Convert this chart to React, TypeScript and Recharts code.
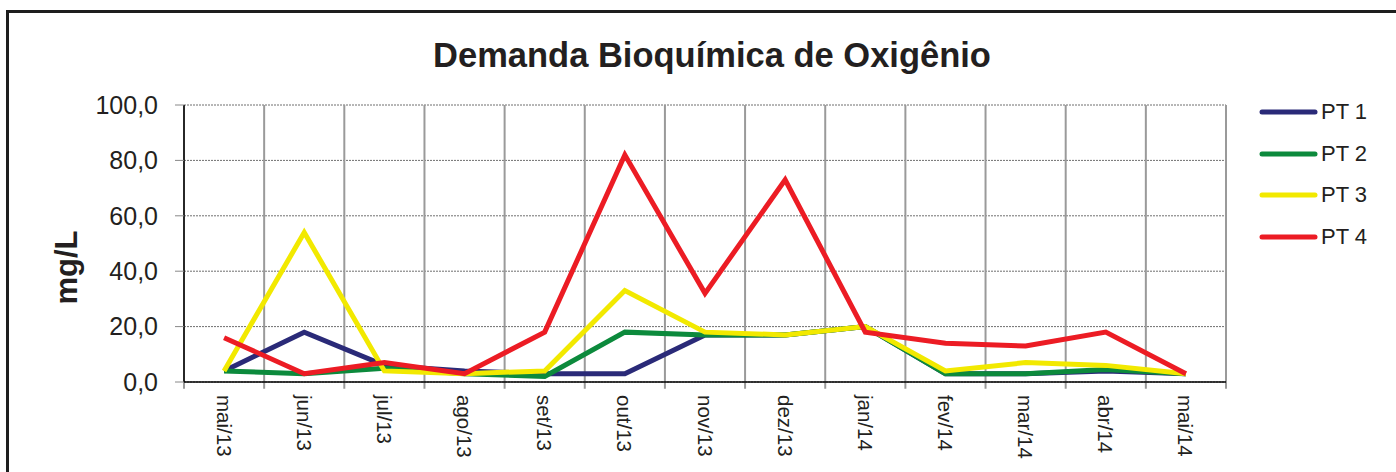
import React from 'react';
import {
  LineChart,
  Line,
  XAxis,
  YAxis,
  CartesianGrid,
  ReferenceLine,
} from 'recharts';

// meses de coleta
const months = [
  'mai/13', 'jun/13', 'jul/13', 'ago/13', 'set/13', 'out/13', 'nov/13',
  'dez/13', 'jan/14', 'fev/14', 'mar/14', 'abr/14', 'mai/14',
];

// DBO (mg/L) por ponto
const pt1 = [4, 18, 6, 4, 3, 3, 17, 17, 20, 3, 3, 4, 3];
const pt2 = [4, 3, 5, 3, 2, 18, 17, 17, 20, 3, 3, 4.5, 3];
const pt3 = [4, 54, 4, 3, 4, 33, 18, 17, 20, 4, 7, 6, 3];
const pt4 = [16, 3, 7, 3, 18, 82, 32, 73, 18, 14, 13, 18, 3];

const yTicks = [0, 20, 40, 60, 80, 100];
const monthIdx = months.map((_, i) => i);
// limites entre categorias (linhas verticais cinza)
const edges = [-0.5, ...months.map((_, i) => i + 0.5)];

const series = [
  { key: 'pt1', name: 'PT 1', color: '#2a2a78' },
  { key: 'pt2', name: 'PT 2', color: '#0c8a3c' },
  { key: 'pt3', name: 'PT 3', color: '#f2e900' },
  { key: 'pt4', name: 'PT 4', color: '#ec1c24' },
];

const data = months.map((m, i) => ({
  i,
  month: m,
  pt1: pt1[i],
  pt2: pt2[i],
  pt3: pt3[i],
  pt4: pt4[i],
}));

const FONT = 'Arial, "Liberation Sans", Helvetica, sans-serif';

const MonthTick = (props: any) => {
  const { x, y, payload } = props;
  return (
    <g transform={`translate(${x},${y})`}>
      <text
        transform="rotate(90)"
        x={13}
        y={0}
        textAnchor="start"
        dominantBaseline="central"
        fontSize={20.5}
        fontFamily={FONT}
        fill="#231f20"
      >
        {months[payload.value]}
      </text>
    </g>
  );
};

const YLabel = (props: any) => {
  const { viewBox } = props;
  const cx = viewBox.x - 8;
  const cy = viewBox.y + viewBox.height / 2 + 24;
  return (
    <text
      x={cx}
      y={cy}
      transform={`rotate(-90, ${cx}, ${cy})`}
      textAnchor="middle"
      dominantBaseline="central"
      fontSize={31}
      fontWeight="bold"
      fontFamily={FONT}
      fill="#231f20"
    >
      mg/L
    </text>
  );
};

export default function App() {
  return (
    <div style={{ position: 'absolute', left: 0, top: 0, width: 1396, height: 472, background: '#fff', overflow: 'hidden' }}>
      {/* moldura */}
      <div
        style={{
          position: 'absolute',
          left: 6,
          top: 10,
          width: 1420,
          height: 500,
          border: '3px solid #1e1e1e',
          boxSizing: 'border-box',
        }}
      />
      <div
        style={{
          position: 'absolute',
          left: 0,
          top: 38,
          width: 1424,
          textAlign: 'center',
          fontFamily: FONT,
          fontWeight: 'bold',
          fontSize: 34.5,
          lineHeight: 1,
          color: '#231f20',
        }}
      >
        Demanda Bioquímica de Oxigênio
      </div>

      <div style={{ position: 'absolute', left: 0, top: 0 }}>
        <LineChart
          width={1396}
          height={472}
          data={data}
          margin={{ top: 105, right: 170, bottom: 0, left: 74 }}
        >
          <CartesianGrid
            horizontal={true}
            vertical={false}
            stroke="#6f6f6f"
            strokeDasharray="2 1"
          />
          {edges.map((b) => (
            <ReferenceLine
              key={b}
              segment={[{ x: b, y: 100 }, { x: b, y: -2.4 }]}
              ifOverflow="visible"
              stroke="#9a9a9a"
              strokeWidth={2}
            />
          ))}
          <XAxis
            type="number"
            dataKey="i"
            domain={[-0.5, 12.5]}
            ticks={monthIdx}
            interval={0}
            tick={<MonthTick />}
            tickLine={false}
            tickSize={0}
            tickMargin={0}
            axisLine={{ stroke: '#000', strokeWidth: 1.5 }}
            height={90}
          />
          <YAxis
            type="number"
            domain={[0, 100]}
            ticks={yTicks}
            interval={0}
            width={110}
            tickSize={9}
            tickMargin={17}
            tickLine={{ stroke: '#888' }}
            axisLine={{ stroke: '#000', strokeWidth: 1.5 }}
            tickFormatter={(v: number) => v.toFixed(1).replace('.', ',')}
            tick={{ fontSize: 25, fontFamily: FONT, fill: '#231f20' }}
            label={<YLabel />}
          />
          {series.map((s) => (
            <Line
              key={s.key}
              type="linear"
              dataKey={s.key}
              name={s.name}
              stroke={s.color}
              strokeWidth={5}
              dot={false}
              activeDot={false}
              isAnimationActive={false}
            />
          ))}
        </LineChart>
      </div>

      {/* legenda */}
      {series.map((s, k) => (
        <div
          key={s.key}
          style={{
            position: 'absolute',
            left: 1258,
            top: 112 + k * 41.5 - 15,
            height: 30,
            display: 'flex',
            alignItems: 'center',
            fontFamily: FONT,
            fontSize: 22,
            color: '#231f20',
          }}
        >
          <svg width={62} height={10} style={{ display: 'block' }}>
            <line x1={4} y1={5} x2={57} y2={5} stroke={s.color} strokeWidth={5} strokeLinecap="round" />
          </svg>
          <span style={{ marginLeft: 1 }}>{s.name}</span>
        </div>
      ))}
    </div>
  );
}
